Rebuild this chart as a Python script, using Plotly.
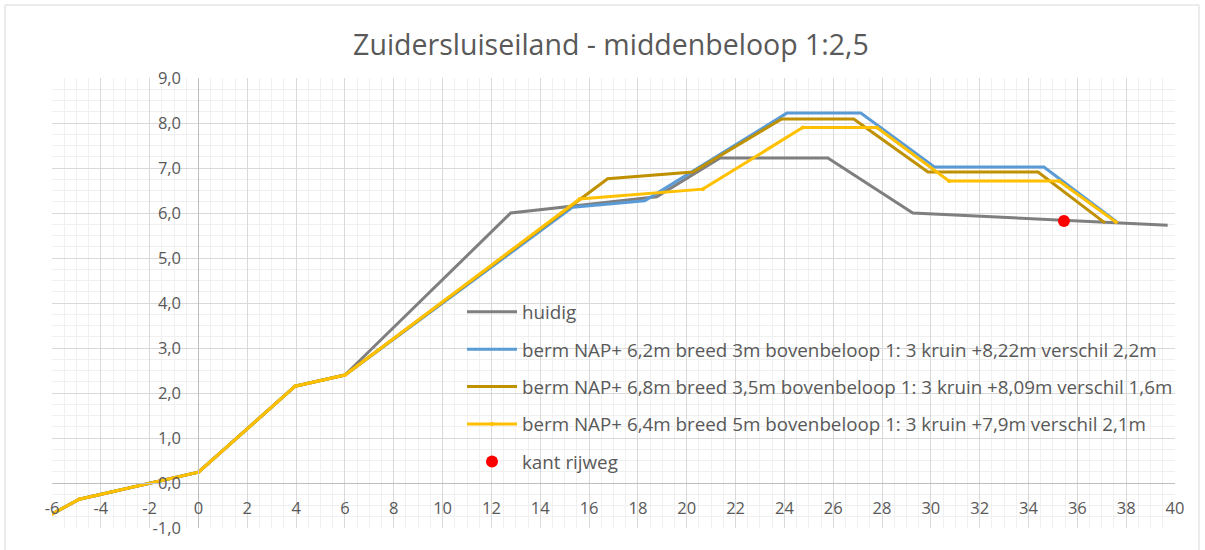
import plotly.graph_objects as go

title = "Zuidersluiseiland - middenbeloop 1:2,5"

common_x = [-6, -4.88, 0, 3.96, 6]
common_y = [-0.69, -0.36, 0.24, 2.15, 2.4]

huidig_x = common_x + [12.79, 18.77, 21.35, 25.78, 29.26, 39.7]
huidig_y = common_y + [6.0, 6.36, 7.22, 7.22, 6.0, 5.73]

blue_x = common_x + [15.33, 18.28, 24.1, 27.13, 30.16, 34.63, 37.62]
blue_y = common_y + [6.13, 6.27, 8.22, 8.22, 7.02, 7.02, 5.8]

gold_x = common_x + [16.76, 20.25, 23.89, 26.84, 29.88, 34.39, 37.13]
gold_y = common_y + [6.76, 6.91, 8.09, 8.09, 6.91, 6.91, 5.78]

yellow_x = common_x + [15.61, 20.66, 24.75, 27.79, 30.74, 35.25, 37.58]
yellow_y = common_y + [6.31, 6.53, 7.9, 7.9, 6.71, 6.71, 5.8]

rijweg_x = [35.45]
rijweg_y = [5.82]

names = [
    "huidig",
    "berm NAP+ 6,2m breed 3m bovenbeloop 1: 3 kruin +8,22m verschil 2,2m",
    "berm NAP+ 6,8m breed 3,5m bovenbeloop 1: 3 kruin +8,09m verschil 1,6m",
    "berm NAP+ 6,4m breed 5m bovenbeloop 1: 3 kruin +7,9m verschil 2,1m",
    "kant rijweg",
]

x_ticks = list(range(-6, 41, 2))
y_ticks = list(range(-1, 10))
y_ticktext = [f"{v:.1f}".replace(".", ",") for v in y_ticks]
x_ticktext = [str(v) for v in x_ticks]

font_family = "Open Sans, Lato, sans-serif"
txt = "#595959"

fig = go.Figure()
fig.add_trace(go.Scatter(x=huidig_x, y=huidig_y, name=names[0], mode="lines",
                         line=dict(color="#7f7f7f", width=3), legendgroup="a"))
fig.add_trace(go.Scatter(x=blue_x, y=blue_y, name=names[1], mode="lines",
                         line=dict(color="#5b9bd5", width=3), legendgroup="b"))
fig.add_trace(go.Scatter(x=gold_x, y=gold_y, name=names[2], mode="lines",
                         line=dict(color="#bf9000", width=3), legendgroup="c"))
fig.add_trace(go.Scatter(x=yellow_x, y=yellow_y, name=names[3], mode="lines+markers",
                         line=dict(color="#ffc000", width=3),
                         marker=dict(color="#ffc000", size=4), legendgroup="d"))
fig.add_trace(go.Scatter(x=rijweg_x, y=rijweg_y, name=names[4], mode="markers",
                         marker=dict(color="#ff0000", size=12), legendgroup="e"))

fig.update_layout(
    width=1205, height=550,
    margin=dict(l=52, r=30, t=78, b=22),
    paper_bgcolor="white", plot_bgcolor="white",
    title=dict(text=title, x=0.507, xanchor="center", y=0.918, yanchor="middle",
               font=dict(family=font_family, size=28.5, color=txt)),
    font=dict(family=font_family, color=txt, size=16),
    legend=dict(x=(462 - 52) / 1123, y=(528 - 293) / 450, xanchor="left", yanchor="top",
                bgcolor="rgba(0,0,0,0)", font=dict(size=18.8, color=txt),
                tracegroupgap=10, itemwidth=50),
    xaxis=dict(range=[-6, 40], tickvals=x_ticks, ticktext=x_ticktext,
               anchor="free", position=0.1,
               showline=True, linecolor="#bfbfbf", linewidth=1.3,
               showgrid=True, gridcolor="#d9d9d9", gridwidth=1,
               minor=dict(dtick=0.5, showgrid=True, gridcolor="#f0f0f0", gridwidth=1),
               zeroline=False, ticks="", ticklabelstandoff=10,
               tickfont=dict(size=16.5, color=txt)),
    yaxis=dict(range=[-1, 9], tickvals=y_ticks, ticktext=y_ticktext,
               anchor="free", position=6 / 46,
               showline=True, linecolor="#bfbfbf", linewidth=1.3,
               showgrid=True, gridcolor="#d9d9d9", gridwidth=1,
               minor=dict(dtick=0.25, showgrid=True, gridcolor="#f0f0f0", gridwidth=1),
               zeroline=False, ticks="", ticklabelstandoff=14,
               tickfont=dict(size=16.5, color=txt)),
)

# outer chart border
fig.add_shape(type="rect", xref="paper", yref="paper",
              x0=(5 - 52) / 1123, x1=(1199 - 52) / 1123,
              y0=(528 - 560) / 450, y1=(528 - 5) / 450,
              line=dict(color="#d9d9d9", width=1), fillcolor="rgba(0,0,0,0)", layer="below")

fig.write_html("out.html", config={"displayModeBar": False},
               post_script="document.body.style.margin='0';document.body.style.overflow='hidden';")
